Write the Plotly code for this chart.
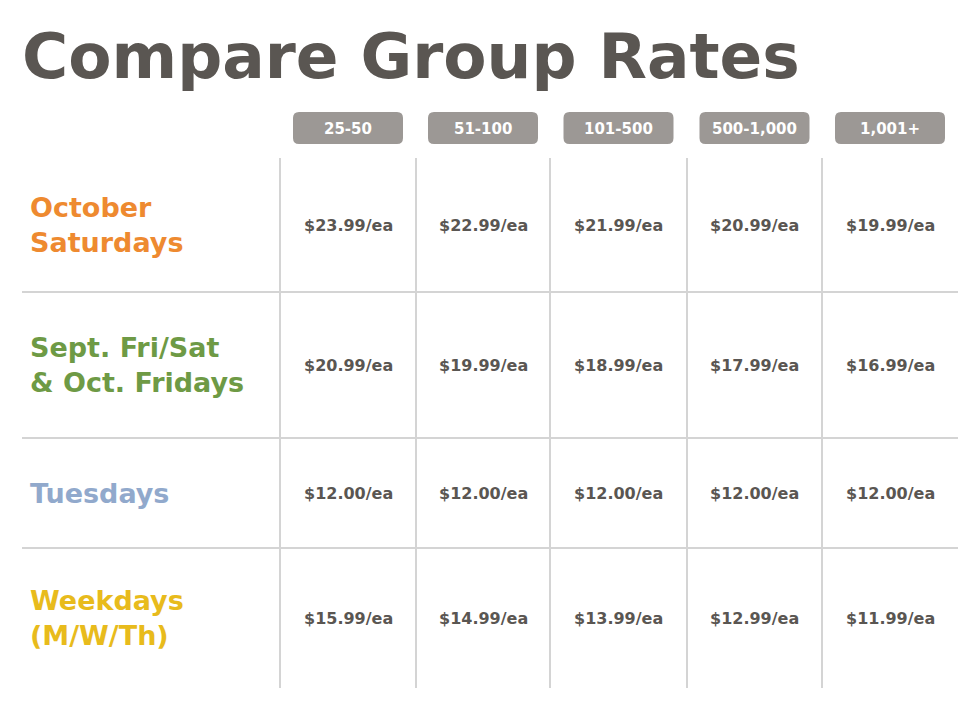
import plotly.graph_objects as go

title = "Compare Group Rates"
tiers = ["25-50", "51-100", "101-500", "500-1,000", "1,001+"]
row_labels = ["October<br>Saturdays", "Sept. Fri/Sat<br>& Oct. Fridays", "Tuesdays", "Weekdays<br>(M/W/Th)"]
row_colors = ["#ee8a30", "#6e9a45", "#91a9cc", "#e8bb1c"]
prices = [
    [23.99, 22.99, 21.99, 20.99, 19.99],
    [20.99, 19.99, 18.99, 17.99, 16.99],
    [12.00, 12.00, 12.00, 12.00, 12.00],
    [15.99, 14.99, 13.99, 12.99, 11.99],
]

col_edges = [280, 416, 550, 687, 822, 958]
row_edges = [158, 292, 438, 548, 688]
FONT = "DejaVu Sans"
dark = "#5a5652"
grid = "#d4d4d4"
OFF = 8  # page body margin compensation

fig = go.Figure()
shapes, ann = [], []
for y in row_edges[1:-1]:
    shapes.append(dict(type="line", x0=22, x1=958, y0=y, y1=y, line=dict(color=grid, width=2)))
for x in col_edges[:-1]:
    shapes.append(dict(type="line", x0=x, x1=x, y0=row_edges[0], y1=row_edges[-1], line=dict(color=grid, width=2)))

def pill(x0, x1, y0, y1, r=6):
    return (f"M{x0+r},{y0} L{x1-r},{y0} Q{x1},{y0} {x1},{y0+r} L{x1},{y1-r} Q{x1},{y1} {x1-r},{y1} "
            f"L{x0+r},{y1} Q{x0},{y1} {x0},{y1-r} L{x0},{y0+r} Q{x0},{y0} {x0+r},{y0} Z")

for j, t in enumerate(tiers):
    cx = (col_edges[j] + col_edges[j + 1]) / 2
    shapes.append(dict(type="path", path=pill(cx - 55, cx + 55, 112, 144), fillcolor="#9c9895", line=dict(width=0)))
    ann.append(dict(x=cx, y=129, text=f"<b>{t}</b>", showarrow=False, font=dict(family=FONT, size=15, color="white")))

for i, lab in enumerate(row_labels):
    cy = (row_edges[i] + row_edges[i + 1]) / 2
    ann.append(dict(x=28, y=cy, text=f"<b>{lab}</b>", xanchor="left", align="left", showarrow=False,
                    font=dict(family=FONT, size=27, color=row_colors[i])))
    for j, p in enumerate(prices[i]):
        cx = (col_edges[j] + col_edges[j + 1]) / 2
        ann.append(dict(x=cx, y=cy, text=f"<b>${p:.2f}/ea</b>", showarrow=False,
                        font=dict(family=FONT, size=16, color=dark)))

ann.append(dict(x=20, y=56, text=f"<b>{title}</b>", xanchor="left", showarrow=False,
                font=dict(family=FONT, size=63, color=dark)))

fig.update_layout(width=980, height=706, margin=dict(l=0, r=0, t=0, b=0),
                  paper_bgcolor="white", plot_bgcolor="white", shapes=shapes, annotations=ann,
                  xaxis=dict(range=[OFF, 980 + OFF], visible=False, fixedrange=True),
                  yaxis=dict(range=[706 + OFF, OFF], visible=False, fixedrange=True), showlegend=False)
fig.write_html("out.html")
